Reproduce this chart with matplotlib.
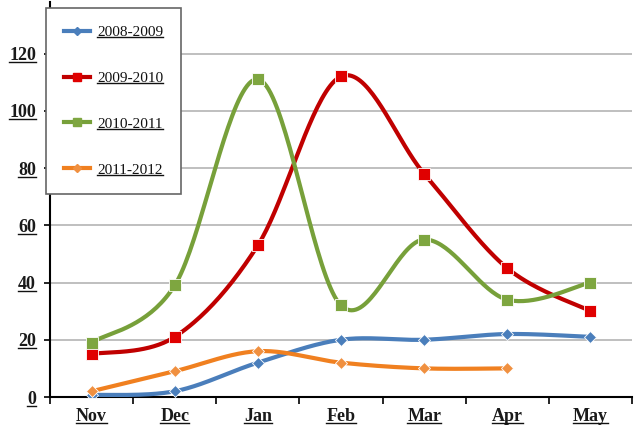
import matplotlib
matplotlib.use('Agg')
import matplotlib.pyplot as plt
from matplotlib.lines import Line2D
import numpy as np

''' Dados por temporada '''
months = ['Nov', 'Dec', 'Jan', 'Feb', 'Mar', 'Apr', 'May']
s_0809 = [0.7, 2, 12, 20, 20, 22, 21]
s_0910 = [15, 21, 53, 112, 78, 45, 30]
s_1011 = [19, 39, 111, 32, 55, 34, 40]
s_1112 = [2, 9, 16, 12, 10, 10]
y_ticks = [0, 20, 40, 60, 80, 100, 120]

plt.rcParams['font.family'] = 'Liberation Serif'

''' Curva suavizada (Bezier tipo Catmull-Rom) passando pelos pontos '''
def smooth(x, y, n=40):
    x = np.asarray(x, float)
    y = np.asarray(y, float)
    px = np.concatenate([[x[0]], x, [x[-1]]])
    py = np.concatenate([[y[0]], y, [y[-1]]])
    xs, ys = [], []
    t = np.linspace(0, 1, n)
    for i in range(1, len(px) - 2):
        p0 = np.array([px[i], py[i]])
        p3 = np.array([px[i + 1], py[i + 1]])
        p1 = p0 + (p3 - np.array([px[i - 1], py[i - 1]])) / 6
        p2 = p3 - (np.array([px[i + 2], py[i + 2]]) - p0) / 6
        b = ((1 - t) ** 3)[:, None] * p0 + (3 * (1 - t) ** 2 * t)[:, None] * p1 \
            + (3 * (1 - t) * t ** 2)[:, None] * p2 + (t ** 3)[:, None] * p3
        xs.append(b[:, 0])
        ys.append(b[:, 1])
    return np.concatenate(xs), np.concatenate(ys)

fig = plt.figure(figsize=(6.34, 4.26), dpi=100)
ax = fig.add_axes([50 / 634, 29 / 426, 582 / 634, 395 / 426])

series = [
    ('2008-2009', s_0809, '#4a7ebb', '#4a7ebb', 'D', 6),
    ('2009-2010', s_0910, '#c00000', '#e00000', 's', 8.5),
    ('2010-2011', s_1011, '#77a03a', '#7ea640', 's', 8.5),
    ('2011-2012', s_1112, '#f08020', '#f09040', 'D', 6),
]

handles = []
for name, vals, lc, mc, mk, ms in series:
    xs = np.arange(len(vals))
    sx, sy = smooth(xs, vals)
    ax.plot(sx, sy, color=lc, lw=3, solid_capstyle='round', zorder=3)
    ax.plot(xs, vals, ls='none', marker=mk, ms=ms, color=mc,
            markeredgecolor='white', markeredgewidth=0.6, zorder=4)
    handles.append(Line2D([], [], color=lc, lw=3, marker=mk, ms=ms * 0.7,
                          markerfacecolor=mc, markeredgecolor=mc))

ax.set_xlim(-0.5, 6.5)
ax.set_ylim(0, 138)
ax.set_xticks(range(len(months)))
ax.set_xticklabels(months)
ax.set_xticks(np.arange(-0.5, 7, 1), minor=True)
ax.set_yticks(y_ticks)
ax.tick_params(axis='x', which='major', length=0, pad=8, labelsize=13)
ax.tick_params(axis='x', which='minor', length=5, width=1.2, direction='out')
ax.tick_params(axis='y', length=4, width=1.2, pad=6, labelsize=13)
for lab in ax.get_xticklabels() + ax.get_yticklabels():
    lab.set_color('#1a1a1a')
    lab.set_fontweight('bold')

ax.grid(axis='y', color='#b4b4b4', lw=1.2)
ax.set_axisbelow(True)
for s in ['top', 'right']:
    ax.spines[s].set_visible(False)
ax.spines['left'].set_linewidth(1.5)
ax.spines['bottom'].set_linewidth(1.5)

leg = fig.legend(handles, [s[0] for s in series], loc='upper left',
                 bbox_to_anchor=(46 / 634, 1 - 8 / 426), fontsize=11,
                 frameon=True, fancybox=False, edgecolor='#666666',
                 framealpha=1, borderpad=1.15, labelspacing=2.1,
                 handlelength=1.7, handletextpad=0.5, borderaxespad=0)
leg.get_frame().set_linewidth(1.2)
leg.set_zorder(10)
for t in leg.get_texts():
    t.set_color('#111111')

''' Sublinhado dos textos '''
fig.canvas.draw()
r = fig.canvas.get_renderer()
texts = ax.get_xticklabels() + ax.get_yticklabels() + leg.get_texts()
for t in texts:
    bb = t.get_window_extent(r)
    y0 = bb.y0 + 2
    fig.add_artist(Line2D([bb.x0 / 634, bb.x1 / 634], [y0 / 426, y0 / 426],
                          transform=fig.transFigure, color='#111111', lw=1.0,
                          zorder=11))

fig.savefig('out.png', dpi=100)
